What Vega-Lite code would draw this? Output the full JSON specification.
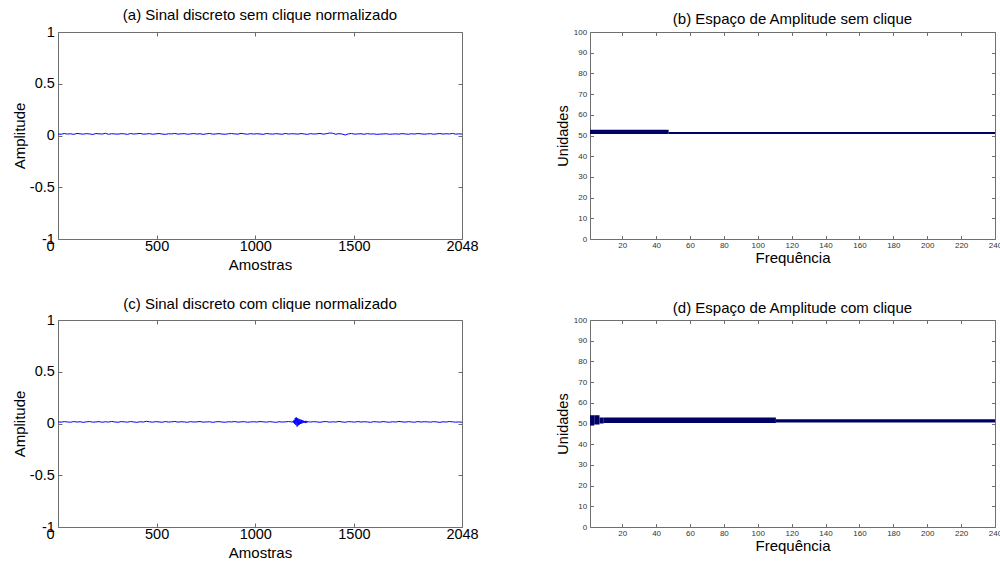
{
  "$schema": "https://vega.github.io/schema/vega-lite/v6.json",
  "background": "white",
  "padding": {"left": 11, "top": 7, "right": 0, "bottom": 0},
  "bounds": "flush",
  "columns": 2,
  "spacing": {"row": 81, "column": 128},
  "config": {
    "font": "Liberation Sans",
    "view": {"stroke": "#6e6e6e", "strokeWidth": 1},
    "axis": {"domain": false, "grid": false, "tickColor": "#6e6e6e", "tickWidth": 1, "titleFontWeight": "normal", "titleColor": "#000", "titleFont": "Liberation Sans", "labelFont": "Liberation Sans"},
    "title": {"fontSize": 15, "fontWeight": "normal", "color": "#000", "font": "Liberation Sans"}
  },
  "datasets": {
    "a": [
      {"x":0,"y":0.015},{"x":16,"y":0.012},{"x":32,"y":0.019},{"x":48,"y":0.014},{"x":64,"y":0.017},{"x":80,"y":0.011},{"x":96,"y":0.020},{"x":112,"y":0.016},{"x":128,"y":0.013},{"x":144,"y":0.018},
      {"x":160,"y":0.015},{"x":176,"y":0.010},{"x":192,"y":0.019},{"x":208,"y":0.016},{"x":224,"y":0.014},{"x":240,"y":0.021},{"x":256,"y":0.012},{"x":272,"y":0.017},{"x":288,"y":0.015},{"x":304,"y":0.013},
      {"x":320,"y":0.018},{"x":336,"y":0.016},{"x":352,"y":0.011},{"x":368,"y":0.019},{"x":384,"y":0.014},{"x":400,"y":0.017},{"x":416,"y":0.020},{"x":432,"y":0.013},{"x":448,"y":0.015},{"x":464,"y":0.018},
      {"x":480,"y":0.012},{"x":496,"y":0.016},{"x":512,"y":0.019},{"x":528,"y":0.014},{"x":544,"y":0.011},{"x":560,"y":0.017},{"x":576,"y":0.015},{"x":592,"y":0.020},{"x":608,"y":0.013},{"x":624,"y":0.016},
      {"x":640,"y":0.018},{"x":656,"y":0.012},{"x":672,"y":0.015},{"x":688,"y":0.019},{"x":704,"y":0.014},{"x":720,"y":0.017},{"x":736,"y":0.011},{"x":752,"y":0.016},{"x":768,"y":0.020},{"x":784,"y":0.013},
      {"x":800,"y":0.015},{"x":816,"y":0.018},{"x":832,"y":0.014},{"x":848,"y":0.012},{"x":864,"y":0.017},{"x":880,"y":0.019},{"x":896,"y":0.015},{"x":912,"y":0.013},{"x":928,"y":0.021},{"x":944,"y":0.016},
      {"x":960,"y":0.012},{"x":976,"y":0.018},{"x":992,"y":0.014},{"x":1008,"y":0.017},{"x":1024,"y":0.015},{"x":1040,"y":0.011},{"x":1056,"y":0.019},{"x":1072,"y":0.016},{"x":1088,"y":0.013},{"x":1104,"y":0.018},
      {"x":1120,"y":0.015},{"x":1136,"y":0.012},{"x":1152,"y":0.020},{"x":1168,"y":0.014},{"x":1184,"y":0.017},{"x":1200,"y":0.016},{"x":1216,"y":0.013},{"x":1232,"y":0.019},{"x":1248,"y":0.015},{"x":1264,"y":0.011},
      {"x":1280,"y":0.018},{"x":1296,"y":0.014},{"x":1312,"y":0.016},{"x":1328,"y":0.020},{"x":1344,"y":0.013},{"x":1360,"y":0.017},{"x":1376,"y":0.024},{"x":1392,"y":0.022},{"x":1408,"y":0.012},{"x":1424,"y":0.018},
      {"x":1440,"y":0.014},{"x":1456,"y":0.005},{"x":1472,"y":0.016},{"x":1488,"y":0.019},{"x":1504,"y":0.013},{"x":1520,"y":0.015},{"x":1536,"y":0.017},{"x":1552,"y":0.012},{"x":1568,"y":0.018},{"x":1584,"y":0.014},
      {"x":1600,"y":0.016},{"x":1616,"y":0.011},{"x":1632,"y":0.013},{"x":1648,"y":0.015},{"x":1664,"y":0.017},{"x":1680,"y":0.012},{"x":1696,"y":0.014},{"x":1712,"y":0.016},{"x":1728,"y":0.013},{"x":1744,"y":0.018},
      {"x":1760,"y":0.015},{"x":1776,"y":0.012},{"x":1792,"y":0.017},{"x":1808,"y":0.014},{"x":1824,"y":0.019},{"x":1840,"y":0.016},{"x":1856,"y":0.013},{"x":1872,"y":0.015},{"x":1888,"y":0.018},{"x":1904,"y":0.012},
      {"x":1920,"y":0.016},{"x":1936,"y":0.019},{"x":1952,"y":0.014},{"x":1968,"y":0.017},{"x":1984,"y":0.015},{"x":2000,"y":0.020},{"x":2016,"y":0.013},{"x":2032,"y":0.016},{"x":2048,"y":0.014}
    ],
    "c": [
      {"x":0,"y":0.016},{"x":16,"y":0.013},{"x":32,"y":0.018},{"x":48,"y":0.015},{"x":64,"y":0.012},{"x":80,"y":0.019},{"x":96,"y":0.014},{"x":112,"y":0.017},{"x":128,"y":0.011},{"x":144,"y":0.016},
      {"x":160,"y":0.019},{"x":176,"y":0.013},{"x":192,"y":0.015},{"x":208,"y":0.018},{"x":224,"y":0.012},{"x":240,"y":0.017},{"x":256,"y":0.014},{"x":272,"y":0.020},{"x":288,"y":0.015},{"x":304,"y":0.012},
      {"x":320,"y":0.018},{"x":336,"y":0.016},{"x":352,"y":0.013},{"x":368,"y":0.019},{"x":384,"y":0.015},{"x":400,"y":0.011},{"x":416,"y":0.017},{"x":432,"y":0.014},{"x":448,"y":0.021},{"x":464,"y":0.016},
      {"x":480,"y":0.013},{"x":496,"y":0.018},{"x":512,"y":0.015},{"x":528,"y":0.012},{"x":544,"y":0.019},{"x":560,"y":0.014},{"x":576,"y":0.016},{"x":592,"y":0.020},{"x":608,"y":0.013},{"x":624,"y":0.017},
      {"x":640,"y":0.015},{"x":656,"y":0.012},{"x":672,"y":0.018},{"x":688,"y":0.014},{"x":704,"y":0.016},{"x":720,"y":0.019},{"x":736,"y":0.013},{"x":752,"y":0.015},{"x":768,"y":0.017},{"x":784,"y":0.011},
      {"x":800,"y":0.016},{"x":816,"y":0.018},{"x":832,"y":0.014},{"x":848,"y":0.012},{"x":864,"y":0.017},{"x":880,"y":0.015},{"x":896,"y":0.019},{"x":912,"y":0.013},{"x":928,"y":0.016},{"x":944,"y":0.018},
      {"x":960,"y":0.012},{"x":976,"y":0.015},{"x":992,"y":0.017},{"x":1008,"y":0.014},{"x":1024,"y":0.019},{"x":1040,"y":0.016},{"x":1056,"y":0.013},{"x":1072,"y":0.018},{"x":1088,"y":0.015},{"x":1104,"y":0.011},
      {"x":1120,"y":0.017},{"x":1136,"y":0.014},{"x":1152,"y":0.016},{"x":1168,"y":0.019},{"x":1184,"y":0.015},
      {"x":1188,"y":0.012},{"x":1191,"y":0.022},{"x":1194,"y":0.008},{"x":1197,"y":0.035},{"x":1200,"y":-0.005},{"x":1203,"y":0.055},{"x":1206,"y":-0.015},{"x":1209,"y":0.058},{"x":1212,"y":-0.030},{"x":1215,"y":0.050},
      {"x":1218,"y":-0.018},{"x":1221,"y":0.045},{"x":1224,"y":-0.010},{"x":1227,"y":0.040},{"x":1230,"y":-0.005},{"x":1233,"y":0.036},{"x":1236,"y":0.000},{"x":1239,"y":0.030},{"x":1242,"y":0.005},{"x":1245,"y":0.027},
      {"x":1248,"y":0.008},{"x":1251,"y":0.024},{"x":1254,"y":0.004},{"x":1257,"y":0.026},{"x":1260,"y":0.009},{"x":1263,"y":0.022},{"x":1266,"y":0.011},{"x":1269,"y":0.019},{"x":1272,"y":0.013},{"x":1276,"y":0.017},
      {"x":1280,"y":0.014},{"x":1296,"y":0.018},{"x":1312,"y":0.015},{"x":1328,"y":0.012},{"x":1344,"y":0.017},{"x":1360,"y":0.019},{"x":1376,"y":0.013},{"x":1392,"y":0.016},{"x":1408,"y":0.014},{"x":1424,"y":0.020},
      {"x":1440,"y":0.015},{"x":1456,"y":0.012},{"x":1472,"y":0.018},{"x":1488,"y":0.016},{"x":1504,"y":0.013},{"x":1520,"y":0.019},{"x":1536,"y":0.014},{"x":1552,"y":0.017},{"x":1568,"y":0.015},{"x":1584,"y":0.011},
      {"x":1600,"y":0.018},{"x":1616,"y":0.016},{"x":1632,"y":0.013},{"x":1648,"y":0.019},{"x":1664,"y":0.015},{"x":1680,"y":0.012},{"x":1696,"y":0.017},{"x":1712,"y":0.014},{"x":1728,"y":0.020},{"x":1744,"y":0.016},
      {"x":1760,"y":0.013},{"x":1776,"y":0.018},{"x":1792,"y":0.015},{"x":1808,"y":0.012},{"x":1824,"y":0.019},{"x":1840,"y":0.014},{"x":1856,"y":0.017},{"x":1872,"y":0.016},{"x":1888,"y":0.013},{"x":1904,"y":0.018},
      {"x":1920,"y":0.015},{"x":1936,"y":0.011},{"x":1952,"y":0.017},{"x":1968,"y":0.014},{"x":1984,"y":0.019},{"x":2000,"y":0.016},{"x":2016,"y":0.013},{"x":2032,"y":0.015},{"x":2048,"y":0.012}
    ],
    "b": [
      {"x":1,"x2":47.4,"y":50.7,"y2":52.8},
      {"x":47.4,"x2":240,"y":50.7,"y2":51.7}
    ],
    "d": [
      {"x":1,"x2":3.5,"y":49.0,"y2":54.0},
      {"x":3.5,"x2":6.6,"y":49.5,"y2":54.0},
      {"x":6.6,"x2":9.1,"y":50.0,"y2":52.9},
      {"x":9.1,"x2":110.7,"y":50.2,"y2":52.9},
      {"x":110.7,"x2":240,"y":50.5,"y2":52.0}
    ]
  },
  "concat": [
    {
      "data": {"name": "a"},
      "width": 404, "height": 207,
      "title": {"text": "(a) Sinal discreto sem clique normalizado", "offset": 1},
      "layer": [
        {
          "mark": {"type": "line", "color": "#0000ff", "strokeWidth": 1},
          "encoding": {
            "x": {"field": "x", "type": "quantitative", "scale": {"domain": [0, 2048], "nice": false, "zero": false},
                  "axis": {"orient": "bottom", "values": [0, 500, 1000, 1500, 2048], "format": "d", "tickSize": -4, "labelPadding": 4.5, "labelFontSize": 14.5, "labelColor": "#000", "labelOffset": {"expr": "datum.value == 0 ? -8 : 0"}, "labelFlush": false,
                           "title": "Amostras", "titleFontSize": 15, "titleX": 202, "titleY": 25, "titleBaseline": "middle"}},
            "y": {"field": "y", "type": "quantitative", "scale": {"domain": [-1, 1], "nice": false, "zero": false},
                  "axis": {"orient": "left", "values": [-1, -0.5, 0, 0.5, 1], "tickSize": -4, "labelPadding": 7.7, "labelFontSize": 14.5, "labelColor": "#000", "labelFlush": false,
                           "labelExpr": "datum.value < 0 ? '-' + format(-datum.value, '') : format(datum.value, '')",
                           "title": "Amplitude", "titleFontSize": 15, "titleX": -38.7, "titleY": 103.5, "titleBaseline": "middle", "titleAngle": -90}}
          }
        },
        {
          "mark": {"type": "point", "opacity": 0},
          "encoding": {
            "x": {"field": "x", "type": "quantitative", "scale": {"domain": [0, 2048], "nice": false, "zero": false},
                  "axis": {"orient": "top", "values": [0, 500, 1000, 1500, 2048], "tickSize": -4, "labels": false, "title": null}},
            "y": {"field": "y", "type": "quantitative", "scale": {"domain": [-1, 1], "nice": false, "zero": false},
                  "axis": {"orient": "right", "values": [-1, -0.5, 0, 0.5, 1], "tickSize": -4, "labels": false, "title": null}}
          }
        }
      ],
      "resolve": {"axis": {"x": "independent", "y": "independent"}}
    },
    {
      "data": {"name": "b"},
      "width": 405, "height": 207,
      "title": {"text": "(b) Espaço de Amplitude sem clique", "offset": 0.7},
      "layer": [
        {
          "mark": {"type": "rect", "color": "#000066"},
          "encoding": {
            "x": {"field": "x", "type": "quantitative", "scale": {"domain": [1, 240], "nice": false, "zero": false},
                  "axis": {"orient": "bottom", "values": [20, 40, 60, 80, 100, 120, 140, 160, 180, 200, 220, 240], "tickSize": -3.5, "labelPadding": 5.5, "labelFontSize": 8, "labelColor": "#333", "labelFlush": false,
                           "title": "Frequência", "titleFontSize": 15, "titleX": 202.5, "titleY": 18, "titleBaseline": "middle"}},
            "x2": {"field": "x2"},
            "y": {"field": "y", "type": "quantitative", "scale": {"domain": [0, 100], "nice": false, "zero": false},
                  "axis": {"orient": "left", "values": [0, 10, 20, 30, 40, 50, 60, 70, 80, 90, 100], "tickSize": -3.5, "labelPadding": 6.8, "labelFontSize": 8, "labelColor": "#333", "labelFlush": false,
                           "title": "Unidades", "titleFontSize": 14.5, "titleX": -27, "titleY": 103.5, "titleBaseline": "middle", "titleAngle": -90}},
            "y2": {"field": "y2"}
          }
        },
        {
          "mark": {"type": "point", "opacity": 0},
          "encoding": {
            "x": {"field": "x", "type": "quantitative", "scale": {"domain": [1, 240], "nice": false, "zero": false},
                  "axis": {"orient": "top", "values": [20, 40, 60, 80, 100, 120, 140, 160, 180, 200, 220, 240], "tickSize": -3.5, "labels": false, "title": null}},
            "y": {"field": "y", "type": "quantitative", "scale": {"domain": [0, 100], "nice": false, "zero": false},
                  "axis": {"orient": "right", "values": [0, 10, 20, 30, 40, 50, 60, 70, 80, 90, 100], "tickSize": -3.5, "labels": false, "title": null}}
          }
        }
      ],
      "resolve": {"axis": {"x": "independent", "y": "independent"}}
    },
    {
      "data": {"name": "c"},
      "width": 404, "height": 207,
      "title": {"text": "(c) Sinal discreto com clique normalizado", "offset": 0},
      "layer": [
        {
          "mark": {"type": "line", "color": "#0000ff", "strokeWidth": 1},
          "encoding": {
            "x": {"field": "x", "type": "quantitative", "scale": {"domain": [0, 2048], "nice": false, "zero": false},
                  "axis": {"orient": "bottom", "values": [0, 500, 1000, 1500, 2048], "format": "d", "tickSize": -4, "labelPadding": 4.5, "labelFontSize": 14.5, "labelColor": "#000", "labelOffset": {"expr": "datum.value == 0 ? -8 : 0"}, "labelFlush": false,
                           "title": "Amostras", "titleFontSize": 15, "titleX": 202, "titleY": 25, "titleBaseline": "middle"}},
            "y": {"field": "y", "type": "quantitative", "scale": {"domain": [-1, 1], "nice": false, "zero": false},
                  "axis": {"orient": "left", "values": [-1, -0.5, 0, 0.5, 1], "tickSize": -4, "labelPadding": 7.7, "labelFontSize": 14.5, "labelColor": "#000", "labelFlush": false,
                           "labelExpr": "datum.value < 0 ? '-' + format(-datum.value, '') : format(datum.value, '')",
                           "title": "Amplitude", "titleFontSize": 15, "titleX": -38.7, "titleY": 103.5, "titleBaseline": "middle", "titleAngle": -90}}
          }
        },
        {
          "mark": {"type": "point", "opacity": 0},
          "encoding": {
            "x": {"field": "x", "type": "quantitative", "scale": {"domain": [0, 2048], "nice": false, "zero": false},
                  "axis": {"orient": "top", "values": [0, 500, 1000, 1500, 2048], "tickSize": -4, "labels": false, "title": null}},
            "y": {"field": "y", "type": "quantitative", "scale": {"domain": [-1, 1], "nice": false, "zero": false},
                  "axis": {"orient": "right", "values": [-1, -0.5, 0, 0.5, 1], "tickSize": -4, "labels": false, "title": null}}
          }
        }
      ],
      "resolve": {"axis": {"x": "independent", "y": "independent"}}
    },
    {
      "data": {"name": "d"},
      "width": 405, "height": 207,
      "title": {"text": "(d) Espaço de Amplitude com clique", "offset": 0.2},
      "layer": [
        {
          "mark": {"type": "rect", "color": "#000066"},
          "encoding": {
            "x": {"field": "x", "type": "quantitative", "scale": {"domain": [1, 240], "nice": false, "zero": false},
                  "axis": {"orient": "bottom", "values": [20, 40, 60, 80, 100, 120, 140, 160, 180, 200, 220, 240], "tickSize": -3.5, "labelPadding": 5.5, "labelFontSize": 8, "labelColor": "#333", "labelFlush": false,
                           "title": "Frequência", "titleFontSize": 15, "titleX": 202.5, "titleY": 18, "titleBaseline": "middle"}},
            "x2": {"field": "x2"},
            "y": {"field": "y", "type": "quantitative", "scale": {"domain": [0, 100], "nice": false, "zero": false},
                  "axis": {"orient": "left", "values": [0, 10, 20, 30, 40, 50, 60, 70, 80, 90, 100], "tickSize": -3.5, "labelPadding": 6.8, "labelFontSize": 8, "labelColor": "#333", "labelFlush": false,
                           "title": "Unidades", "titleFontSize": 14.5, "titleX": -27, "titleY": 103.5, "titleBaseline": "middle", "titleAngle": -90}},
            "y2": {"field": "y2"}
          }
        },
        {
          "mark": {"type": "point", "opacity": 0},
          "encoding": {
            "x": {"field": "x", "type": "quantitative", "scale": {"domain": [1, 240], "nice": false, "zero": false},
                  "axis": {"orient": "top", "values": [20, 40, 60, 80, 100, 120, 140, 160, 180, 200, 220, 240], "tickSize": -3.5, "labels": false, "title": null}},
            "y": {"field": "y", "type": "quantitative", "scale": {"domain": [0, 100], "nice": false, "zero": false},
                  "axis": {"orient": "right", "values": [0, 10, 20, 30, 40, 50, 60, 70, 80, 90, 100], "tickSize": -3.5, "labels": false, "title": null}}
          }
        }
      ],
      "resolve": {"axis": {"x": "independent", "y": "independent"}}
    }
  ]
}
